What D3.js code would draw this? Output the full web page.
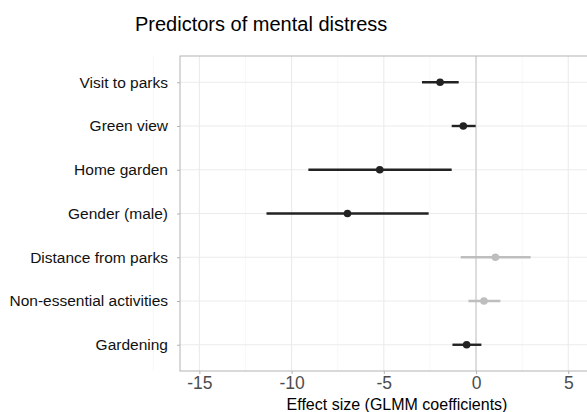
<!DOCTYPE html>
<html><head><meta charset="utf-8">
<script src="https://cdn.jsdelivr.net/npm/d3@7"></script>
<style>body{margin:0;background:#fff;} svg{display:block;}</style>
</head><body>
<script>
const categories = ["Visit to parks","Green view","Home garden","Gender (male)","Distance from parks","Non-essential activities","Gardening"];
const estimates = [-1.95,-0.69,-5.22,-6.97,1.05,0.43,-0.51];
const lower = [-2.93,-1.32,-9.09,-11.36,-0.83,-0.41,-1.28];
const upper = [-0.94,-0.02,-1.32,-2.57,2.96,1.32,0.29];
const significant = [true,true,true,true,false,false,true];
const xTicks = [-15,-10,-5,0,5];
const title = "Predictors of mental distress";
const xTitle = "Effect size (GLMM coefficients)";

const W = 587, H = 412;
const m = {left:180, top:56, right:614, bottom:371};
const svg = d3.select("body").append("svg").attr("width",W).attr("height",H);
const font = "'Liberation Sans', Arial, Helvetica, sans-serif";

const x = d3.scaleLinear().domain([-16.05, 7.48]).range([m.left, m.right]);
const y = d3.scalePoint().domain(categories).range([m.top, m.bottom]).padding(0.6);

// grid
const g = svg.append("g");
const minor = d3.range(-17.5, 10, 5);
g.selectAll("line.minor").data(minor).join("line")
  .attr("x1",d=>x(d)).attr("x2",d=>x(d)).attr("y1",m.top).attr("y2",m.bottom)
  .attr("stroke","#f2f2f2").attr("stroke-width",0.6);
g.selectAll("line.majx").data(d3.range(-15,10,5)).join("line")
  .attr("x1",d=>x(d)).attr("x2",d=>x(d)).attr("y1",m.top).attr("y2",m.bottom)
  .attr("stroke","#ebebeb").attr("stroke-width",1.1);
g.selectAll("line.majy").data(categories).join("line")
  .attr("y1",d=>y(d)).attr("y2",d=>y(d)).attr("x1",m.left).attr("x2",m.right)
  .attr("stroke","#ebebeb").attr("stroke-width",1.1);
// zero line
g.append("line").attr("x1",x(0)).attr("x2",x(0)).attr("y1",m.top).attr("y2",m.bottom)
  .attr("stroke","#dcdcdc").attr("stroke-width",2);

// data
const data = categories.map((c,i)=>({c, est:estimates[i], lo:lower[i], hi:upper[i], sig:significant[i]}));
const col = d => d.sig ? "#222222" : "#bebebe";
svg.selectAll("line.ci").data(data).join("line")
  .attr("x1",d=>x(d.lo)).attr("x2",d=>x(d.hi)).attr("y1",d=>y(d.c)).attr("y2",d=>y(d.c))
  .attr("stroke",col).attr("stroke-width",2.4);
svg.selectAll("circle").data(data).join("circle")
  .attr("cx",d=>x(d.est)).attr("cy",d=>y(d.c)).attr("r",3.8).attr("fill",col);

// panel border
svg.append("rect").attr("x",m.left).attr("y",m.top).attr("width",m.right-m.left).attr("height",m.bottom-m.top)
  .attr("fill","none").attr("stroke","#b3b3b3").attr("stroke-width",1);

// axes
const xAxis = svg.append("g").attr("transform",`translate(0,${m.bottom})`)
  .call(d3.axisBottom(x).tickValues(xTicks).tickSize(3).tickPadding(3).tickFormat(d3.format("d")));
xAxis.select(".domain").remove();
xAxis.selectAll("line").attr("stroke","#b3b3b3");
xAxis.selectAll("text").attr("font-family",font).attr("font-size",17.5).attr("fill","#4d4d4d")
  .text(d=>d<0?"-"+Math.abs(d):d);

const yAxis = svg.append("g").attr("transform",`translate(${m.left},0)`)
  .call(d3.axisLeft(y).tickSize(3).tickPadding(9));
yAxis.select(".domain").remove();
yAxis.selectAll("line").attr("stroke","#b3b3b3");
yAxis.selectAll("text").attr("font-family",font).attr("font-size",15.5).attr("fill","#111");

svg.append("text").attr("x",135).attr("y",31).attr("font-family",font).attr("font-size",20)
  .attr("fill","#000").text(title);
svg.append("text").attr("x",(m.left+m.right)/2).attr("y",409.5).attr("text-anchor","middle")
  .attr("font-family",font).attr("font-size",16).attr("fill","#000").text(xTitle);
</script>
</body></html>
